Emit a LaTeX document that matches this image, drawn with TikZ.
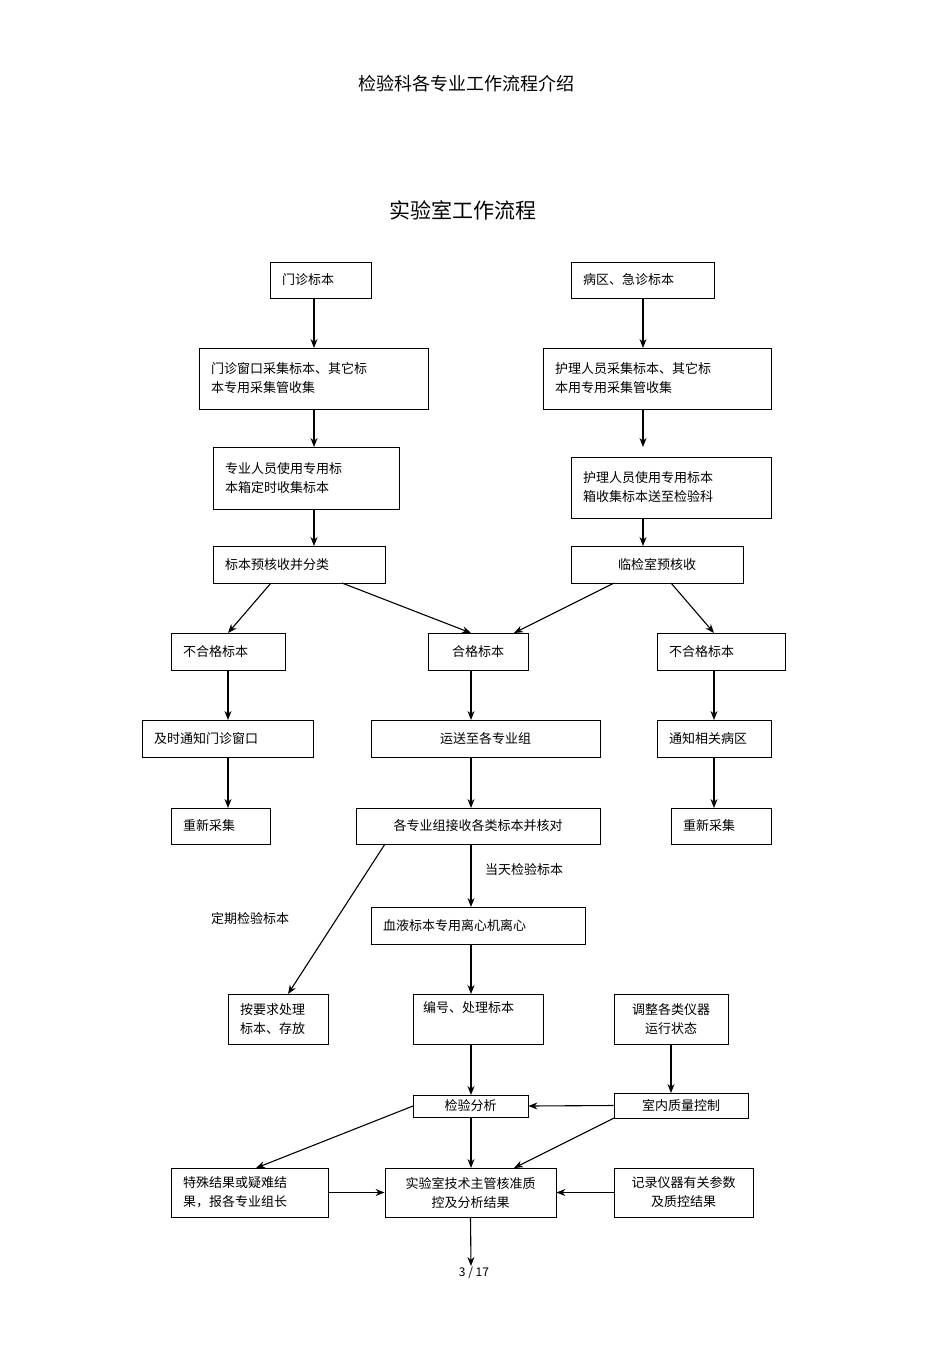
\documentclass[tikz,border=0pt]{standalone}
\usepackage{fontspec}
\setmainfont{Noto Sans CJK SC}
\usetikzlibrary{arrows.meta}
\begin{document}
\begin{tikzpicture}[x=1pt,y=-1pt,
 bx/.style={draw,line width=0.8pt,inner sep=0pt,font=\fontsize{13}{19}\selectfont},
 ar/.style={draw,line width=1.1pt,-{Stealth[length=9pt,width=7pt]}},
 lb/.style={font=\fontsize{13}{16}\selectfont}]
\useasboundingbox (0,0) rectangle (950,1346);
\def\B#1#2#3#4#5#6{\node[bx,minimum width=#4-#2,minimum height=#5-#3,text width=#4-#2-24,align=left] (#1) at ({(#2+#4)/2},{(#3+#5)/2}) {#6};}
\def\BC#1#2#3#4#5#6{\node[bx,minimum width=#4-#2,minimum height=#5-#3,align=center] (#1) at ({(#2+#4)/2},{(#3+#5)/2}) {#6};}
\node[font=\fontsize{18}{20}\selectfont] (t1) at (466,84) {检验科各专业工作流程介绍};
\node[font=\fontsize{21}{24}\selectfont] (t2) at (463,210) {实验室工作流程};
\B{A}{270}{262}{371}{298}{门诊标本}
\B{B}{571}{262}{714}{298}{病区、急诊标本}
\B{C}{199}{348}{428}{409}{门诊窗口采集标本、其它标\\本专用采集管收集}
\B{D}{543}{348}{771}{409}{护理人员采集标本、其它标\\本用专用采集管收集}
\B{E}{213}{447}{399}{509}{专业人员使用专用标\\本箱定时收集标本}
\B{F}{571}{457}{771}{518}{护理人员使用专用标本\\箱收集标本送至检验科}
\B{G}{213}{546}{385}{583}{标本预核收并分类}
\BC{H}{571}{546}{743}{583}{临检室预核收}
\B{I}{171}{633}{285}{670}{不合格标本}
\BC{J}{428}{633}{528}{670}{合格标本}
\B{K}{657}{633}{785}{670}{不合格标本}
\B{L}{142}{720}{313}{757}{及时通知门诊窗口}
\BC{M}{371}{720}{600}{757}{运送至各专业组}
\B{N}{657}{720}{771}{757}{通知相关病区}
\B{O}{171}{808}{270}{844}{重新采集}
\BC{P}{356}{808}{600}{844}{各专业组接收各类标本并核对}
\B{Q}{671}{808}{771}{844}{重新采集}
\node[lb] (l1) at (524,870) {当天检验标本};
\node[lb] (l2) at (250,919) {定期检验标本};
\B{R}{371}{907}{585}{944}{血液标本专用离心机离心}
\draw[line width=1.6pt] (R.south west) -- (R.south east);
\B{S}{228}{994}{328}{1044}{按要求处理\\标本、存放}
\node[bx,minimum width=130,minimum height=50,anchor=north] (T) at (478,994) {};
\node[lb,anchor=north west] at (T.north west) [xshift=7pt,yshift=-4pt] {编号、处理标本};
\BC{U}{614}{994}{728}{1044}{调整各类仪器\\运行状态}
\BC{V}{413}{1095}{528}{1117}{检验分析}
\BC{W}{614}{1093}{748}{1118}{室内质量控制}
\B{X}{171}{1168}{328}{1217}{特殊结果或疑难结\\果，报各专业组长}
\BC{Y}{385}{1168}{556}{1217}{实验室技术主管核准质\\控及分析结果}
\BC{Z}{614}{1168}{753}{1217}{记录仪器有关参数\\及质控结果}
\node[font=\fontsize{12}{14}\selectfont] (pg) at (474,1273) {3 / 17};
\coordinate (yend) at (471,1266);
\draw[ar] (314,298) -- (314,348);
\draw[ar] (643,298) -- (643,348);
\draw[ar] (314,409) -- (314,447);
\draw[ar] (643,409) -- (643,447);
\draw[ar] (314,509) -- (314,546);
\draw[ar] (643,518) -- (643,546);
\draw[ar] (271,583) -- (228,633);
\draw[ar] (342,583) -- (471,633);
\draw[ar] (614,583) -- (514,633);
\draw[ar] (671,583) -- (714,633);
\draw[ar] (228,670) -- (228,720);
\draw[ar] (471,670) -- (471,720);
\draw[ar] (714,670) -- (714,720);
\draw[ar] (228,757) -- (228,808);
\draw[ar] (471,757) -- (471,808);
\draw[ar] (714,757) -- (714,808);
\draw[ar] (471,844) -- (471,907);
\draw[ar] (385,844) -- (288,994);
\draw[ar] (471,944) -- (471,994);
\draw[ar] (471,1044) -- (471,1095);
\draw[ar] (671,1044) -- (671,1093);
\draw[ar] (W.west) -- (V.east);
\draw[ar] (413,1106) -- (256,1168);
\draw[ar] (471,1117) -- (471,1168);
\draw[ar] (614,1118) -- (514,1168);
\draw[ar] (X.east) -- (Y.west);
\draw[ar] (Z.west) -- (Y.east);
\draw[ar] (Y.south) -- (yend);
\end{tikzpicture}
\end{document}
